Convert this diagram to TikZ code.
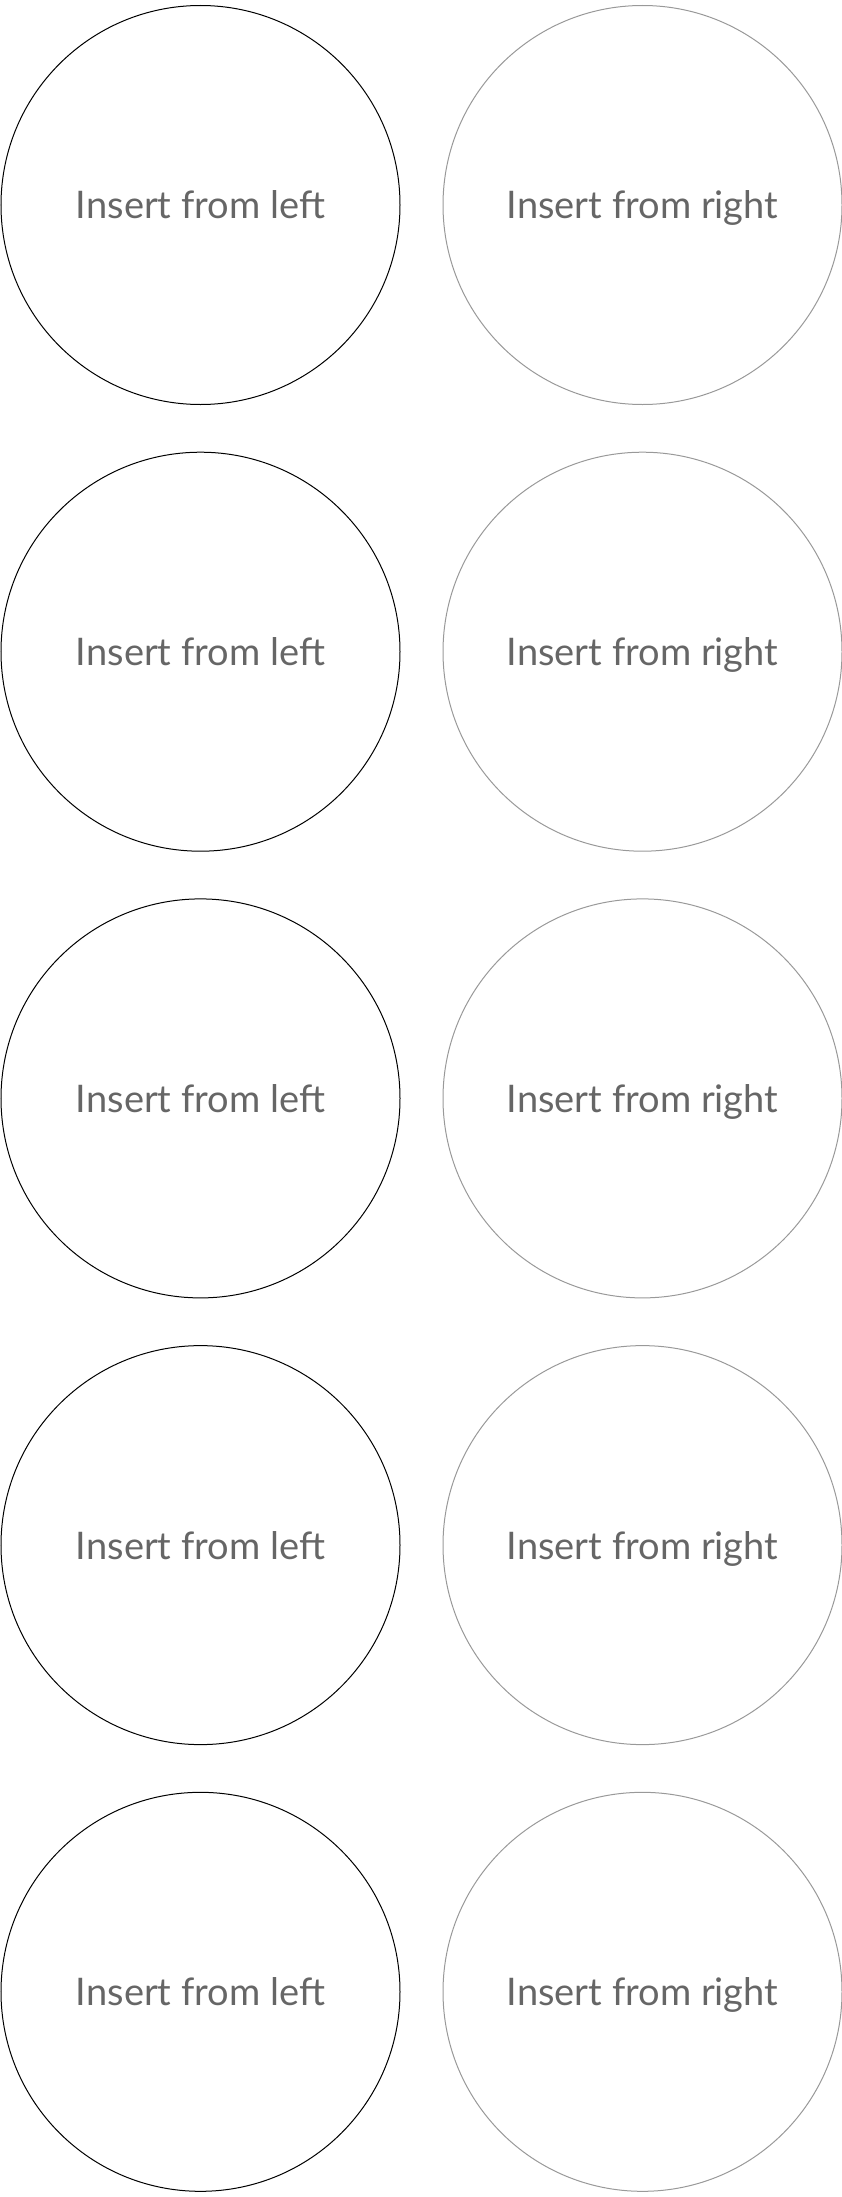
\documentclass[tikz,border=0pt]{standalone}
\usepackage{fontspec}
\setmainfont{Lato}
\begin{document}
\begin{tikzpicture}[x=1pt,y=-1pt,
  ring/.style={circle,minimum size=399pt,inner sep=0pt,line width=1pt,
    text=black!60,text depth=0pt,font=\fontsize{38}{44}\selectfont},
  leftring/.style={ring,draw=black},
  rightring/.style={ring,draw=black!40}]
  \useasboundingbox (0,0) rectangle (842,2197);
  \foreach \r in {0,...,4} {
    \node[leftring] (left\r) at (200.5,205+446.7*\r) {Insert from left};
    \node[rightring] (right\r) at (642.5,205+446.7*\r) {Insert from right};
  }
\end{tikzpicture}
\end{document}
